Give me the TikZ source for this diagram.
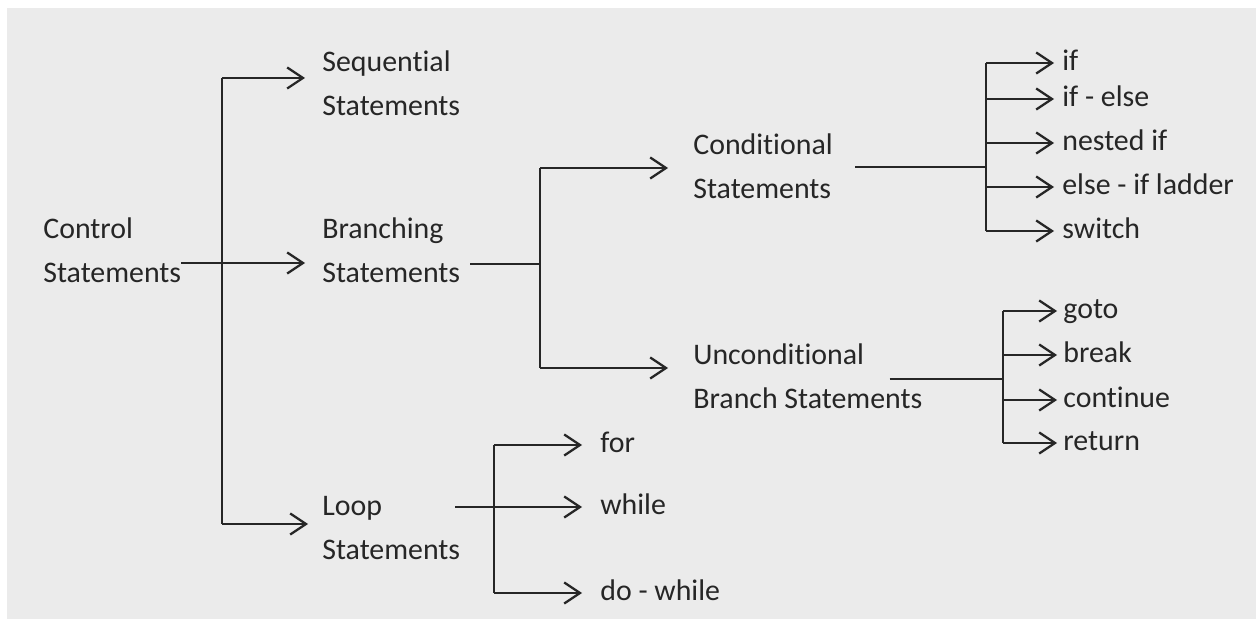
\documentclass[tikz,border=0pt]{standalone}
\usepackage{fontspec}
\setmainfont{Carlito}[Ligatures=NoCommon]
\usetikzlibrary{arrows.meta}
\definecolor{bggray}{HTML}{EBEBEB}
\definecolor{ink}{HTML}{262626}
\tikzset{
  wire/.style={line width=1.3pt, color=ink},
  arr/.style={wire, -{Straight Barb[length=9pt,width=12pt]}, shorten >=#1},
  arr/.default=0.34cm,
  txt/.style={anchor=west, inner sep=0pt, align=left, text=ink, font=\fontsize{17}{25}\selectfont},
  leaf/.style={txt, text height=8pt, text depth=0pt}
}
\begin{document}
\begin{tikzpicture}
  \fill[bggray] (0.14,0) rectangle (25.12,12.22);
  \useasboundingbox (0,0) rectangle (25.12,12.38);
  \node[txt] (ctrl) at (0.86,7.38) {Control\\Statements};
  \node[txt] (seq) at (6.44,10.72) {Sequential\\Statements};
  \node[txt] (branch) at (6.44,7.38) {Branching\\Statements};
  \node[txt] (loop) at (6.44,1.82) {Loop\\Statements};
  \node[txt] (cond) at (13.86,9.06) {Conditional\\Statements};
  \node[txt] (uncond) at (13.86,4.86) {Unconditional\\Branch Statements};
  \foreach \nm/\lbl/\yy in {ifst/if/11.12, ifelse/if - else/10.40, nested/nested if/9.52, elseif/else - if ladder/8.64, switch/switch/7.76}
    \node[leaf] (\nm) at (21.24,\yy) {\lbl};
  \foreach \nm/\lbl/\yy in {goto/goto/6.16, break/break/5.28, continue/continue/4.38, return/return/3.52}
    \node[leaf] (\nm) at (21.26,\yy) {\lbl};
  \foreach \nm/\lbl/\yy in {for/for/3.48, while/while/2.24, dowhile/do - while/0.52}
    \node[leaf] (\nm) at (12.00,\yy) {\lbl};

  \coordinate (m1) at (4.44,10.82);
  \coordinate (m2) at (4.44,1.90);
  \draw[wire] (m1) -- (m2);
  \draw[arr] (m1) -- (m1 -| seq.west);
  \draw[arr=0.28cm] (m2) -- (m2 -| loop.west);
  \draw[arr] ([yshift=-0.26cm]ctrl.east) -- ([yshift=-0.26cm]branch.west);

  \coordinate (b1) at (10.80,9.02);
  \coordinate (b2) at (10.80,5.02);
  \coordinate (bo) at ([xshift=0.2cm,yshift=-0.28cm]branch.east);
  \draw[wire] (bo) -- (bo -| b1);
  \draw[wire] (b1) -- (b2);
  \draw[arr=0.5cm] (b1) -- (b1 -| cond.west);
  \draw[arr=0.5cm] (b2) -- (b2 -| uncond.west);

  \coordinate (c1) at (19.72,11.12);
  \coordinate (c2) at (19.72,7.76);
  \coordinate (co) at ([xshift=0.44cm,yshift=-0.02cm]cond.east);
  \draw[wire] (co) -- (co -| c1);
  \draw[wire] (c1) -- (c2);
  \foreach \nm in {ifst,ifelse,nested,elseif,switch}
    \draw[arr=0.16cm] (c1 |- \nm.west) -- (\nm.west);

  \coordinate (u1) at (20.06,6.16);
  \coordinate (u2) at (20.06,3.52);
  \coordinate (uo) at ([xshift=-0.66cm,yshift=-0.06cm]uncond.east);
  \draw[wire] (uo) -- (uo -| u1);
  \draw[wire] (u1) -- (u2);
  \foreach \nm in {goto,break,continue,return}
    \draw[arr=0.12cm] (u1 |- \nm.west) -- (\nm.west);

  \coordinate (l1) at (9.88,3.48);
  \coordinate (l2) at (9.88,0.52);
  \coordinate (lo) at ([xshift=-0.1cm,yshift=0.42cm]loop.east);
  \draw[wire] (l1) -- (l2);
  \draw[arr=0.36cm] (l1) -- (for.west);
  \draw[arr=0.36cm] (lo) -- (lo -| while.west);
  \draw[arr=0.36cm] (l2) -- (dowhile.west);
\end{tikzpicture}
\end{document}
